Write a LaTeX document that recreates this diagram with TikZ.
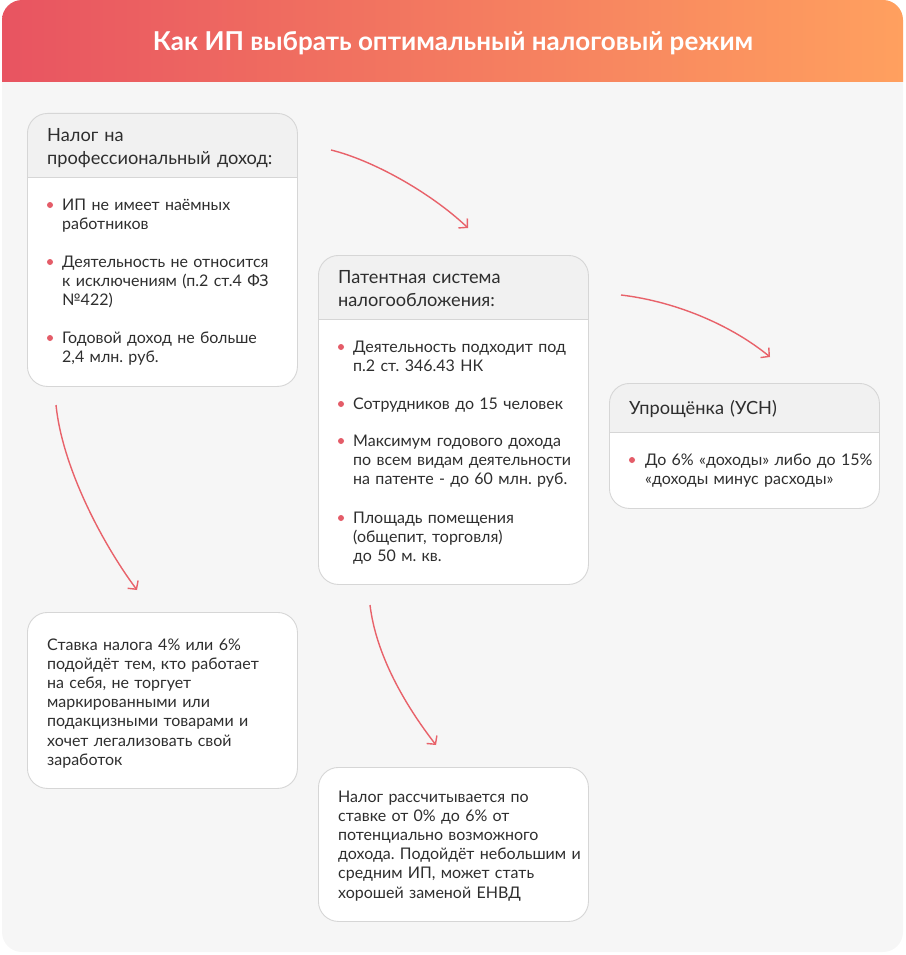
\documentclass[tikz,border=0pt]{standalone}
\usepackage{fontspec}
\setmainfont{Lato}
\frenchspacing
\usetikzlibrary{arrows.meta,positioning}
\definecolor{tred}{RGB}{232,84,97}
\definecolor{torange}{RGB}{255,160,95}
\definecolor{tbg}{RGB}{246,246,246}
\definecolor{thead}{RGB}{241,241,241}
\definecolor{tline}{RGB}{214,214,214}
\definecolor{ttext}{RGB}{46,46,46}
\definecolor{tdot}{RGB}{228,92,104}
\definecolor{tarrow}{RGB}{232,98,106}

\tikzset{
  panel/.style={draw=tline, fill=white, line width=0.9pt, rounded corners=20pt,
    anchor=north west, inner sep=0pt},
  headed/.style={path picture={
    \fill[thead, sharp corners] (path picture bounding box.north west)
      rectangle ([yshift=-#1]path picture bounding box.north east);
    \draw[tline, line width=0.9pt, sharp corners] ([yshift=-#1]path picture bounding box.north west)
      -- ([yshift=-#1]path picture bounding box.north east);}},
  headtxt/.style={anchor=base west, inner sep=0pt, text width=250pt, align=left,
    font=\fontsize{18.2}{23}\selectfont, text=ttext},
  bodytxt/.style={anchor=base west, inner sep=0pt, text width=250pt, align=left,
    font=\fontsize{16}{19.2}\selectfont, text=ttext},
  bulletdot/.style={fill=tdot},
  flow/.style={tarrow, line width=1.4pt, -{Straight Barb[length=6pt,width=13pt]}},
}

\begin{document}
\begin{tikzpicture}[x=1pt,y=-1pt]
  \useasboundingbox (0,0) rectangle (905,955);
  % card and header
  \fill[tbg, rounded corners=20pt] (2,0) rectangle (903,952);
  \begin{scope}
    \clip[rounded corners=20pt] (2,0) rectangle (903,952);
    \shade[left color=tred, right color=torange] (2,0) rectangle (903,82);
  \end{scope}
  \node[font=\bfseries\fontsize{26}{30}\selectfont, text=white] (title) at (453,43)
    {Как ИП выбрать оптимальный налоговый режим};

  % boxes
  \node[panel, headed=64pt, minimum width=270pt, minimum height=273pt] (npd) at (27,113) {};
  \node[panel, headed=64pt, minimum width=270pt, minimum height=329pt] (patent) at (318,255) {};
  \node[panel, headed=49pt, minimum width=270pt, minimum height=125pt] (usn) at (609,383) {};
  \node[panel, minimum width=270pt, minimum height=176pt] (rate) at (27,612) {};
  \node[panel, minimum width=270pt, minimum height=154pt] (envd) at (318,767) {};

  % professional income tax
  \node[headtxt] (npdHead) at (47,141) {Налог на\\профессиональный доход:};
  \node[bodytxt] (npd1) at (62,210) {ИП не имеет наёмных\\работников};
  \node[bodytxt] (npd2) at (62,267) {Деятельность не относится\\к исключениям (п.2 ст.4 ФЗ\\№422)};
  \node[bodytxt] (npd3) at (62,343) {Годовой доход не больше\\2,4 млн. руб.};
  \foreach \y in {205,262,338}
    \fill[bulletdot] (50,\y) circle (3pt);

  % patent
  \node[headtxt] (patentHead) at (338,283) {Патентная система\\налогообложения:};
  \node[bodytxt] (patent1) at (353,352) {Деятельность подходит под\\п.2 ст. 346.43 НК};
  \node[bodytxt] (patent2) at (353,409) {Сотрудников до 15 человек};
  \node[bodytxt] (patent3) at (353,446) {Максимум годового дохода\\по всем видам деятельности\\на патенте - до 60 млн. руб.};
  \node[bodytxt] (patent4) at (353,523) {Площадь помещения\\(общепит, торговля)\\до 50 м. кв.};
  \foreach \y in {347,404,441,518}
    \fill[bulletdot] (341,\y) circle (3pt);

  % simplified
  \node[headtxt] (usnHead) at (629,414) {Упрощёнка (УСН)};
  \node[bodytxt] (usn1) at (645,465) {До 6\% «доходы» либо до 15\%\\«доходы минус расходы»};
  \fill[bulletdot] (632,460) circle (3pt);

  % notes
  \node[bodytxt] (rateTxt) at (47,650) {Ставка налога 4\% или 6\%\\подойдёт тем, кто работает\\на себя, не торгует\\маркированными или\\подакцизными товарами и\\хочет легализовать свой\\заработок};
  \node[bodytxt] (envdTxt) at (338,802) {Налог рассчитывается по\\ставке от 0\% до 6\% от\\потенциально возможного\\дохода. Подойдёт небольшим и\\средним ИП, может стать\\хорошей заменой ЕНВД};

  % arrows
  \coordinate (a1s) at (331,150);
  \coordinate (a1e) at (468,228);
  \coordinate (a2s) at (621,295);
  \coordinate (a2e) at (770,357);
  \coordinate (a3s) at (56,405);
  \coordinate (a3e) at (137,590);
  \coordinate (a4s) at (370,605);
  \coordinate (a4e) at (436,745);
  \draw[flow] (a1s) .. controls (372,160) and (430,192) .. (a1e);
  \draw[flow] (a2s) .. controls (680,302) and (735,328) .. (a2e);
  \draw[flow] (a3s) .. controls (62,465) and (100,540) .. (a3e);
  \draw[flow] (a4s) .. controls (376,655) and (405,705) .. (a4e);
\end{tikzpicture}
\end{document}
